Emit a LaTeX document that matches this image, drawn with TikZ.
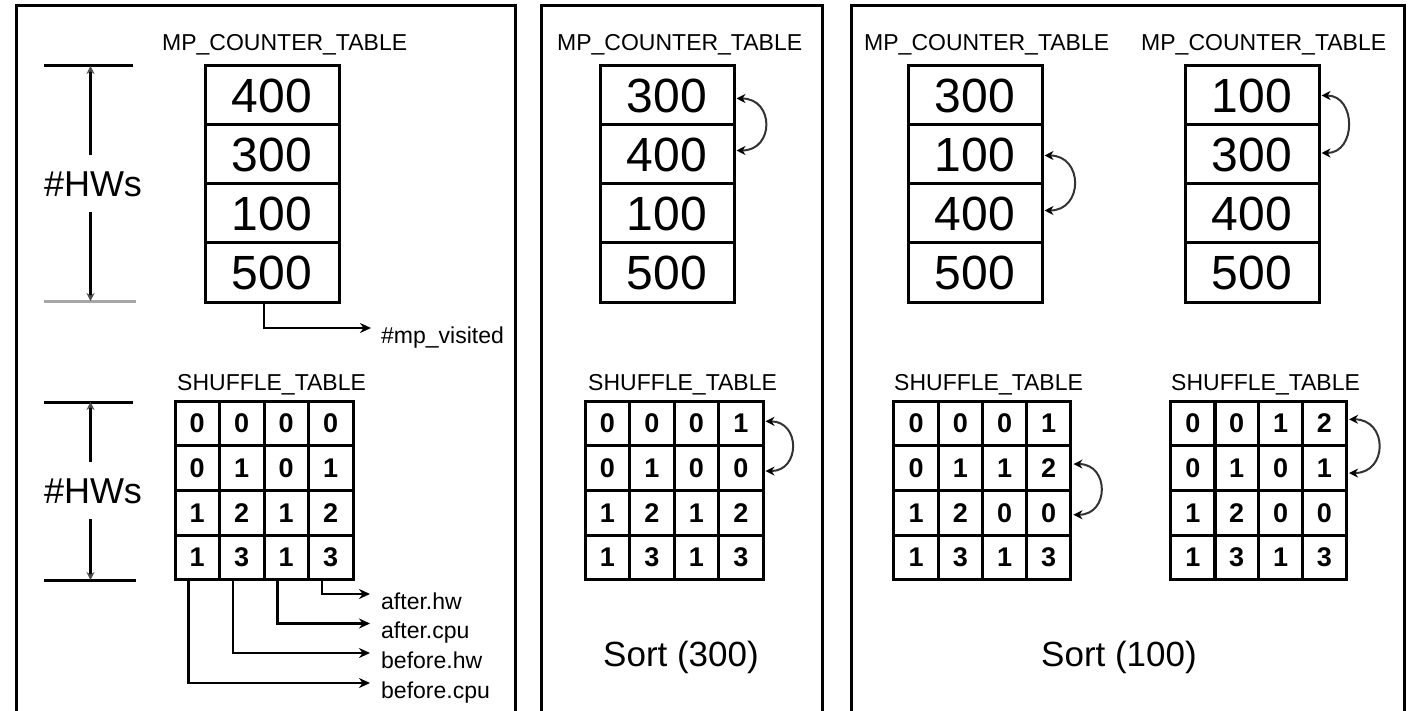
\documentclass[tikz,border=0pt]{standalone}
\usepackage{fontspec}
\setmainfont{Liberation Sans}
\usetikzlibrary{arrows.meta,calc}
\tikzset{
  panel/.style={line width=3pt},
  cnt/.style={draw, line width=3pt, minimum width=134pt, minimum height=59pt, inner sep=0pt, font=\fontsize{48}{48}\selectfont},
  shf/.style={draw, line width=3pt, minimum width=44.5pt, minimum height=44.7pt, inner sep=0pt, font=\fontsize{27}{27}\selectfont\bfseries},
  ttl/.style={anchor=base west, inner sep=0pt, font=\fontsize{23}{23}\selectfont},
  lbl/.style={anchor=base west, inner sep=0pt, font=\fontsize{23}{23}\selectfont},
  hwtext/.style={inner sep=0pt, font=\fontsize{36}{36}\selectfont},
  sorttext/.style={inner sep=0pt, font=\fontsize{35}{35}\selectfont},
  conn/.style={line width=2.8pt, -{Stealth[length=11pt,width=10pt]}},
  swaparr/.style={line width=2pt, black!80, {Stealth[length=9pt,width=9pt,color=black]}-{Stealth[length=9pt,width=9pt,color=black]}},
  dimline/.style={line width=3pt},
  dimarr/.style={line width=3pt, -{Stealth[length=8pt,width=8pt,color=black!70]}},
}
\begin{document}
\begin{tikzpicture}[x=1pt,y=-1pt]
\useasboundingbox (0,0) rectangle (1415,711);
% panels
\draw[panel] (16,716) -- (16,5.5) -- (515,5.5) -- (515,716);
\draw[panel] (541,716) -- (541,5.5) -- (822,5.5) -- (822,716);
\draw[panel] (851,716) -- (851,5.5) -- (1404,5.5) -- (1404,716);

% ---------------- left panel ----------------
\node[ttl] (tL) at (162,51) {MP\_COUNTER\_TABLE};
\foreach \v [count=\i] in {400,300,100,500}
  \node[cnt] (L\i) at (272,{66+59*(\i-0.5)}) {\v};
\node[ttl] (tA) at (177,390) {SHUFFLE\_TABLE};
\foreach \r/\vals in {1/{0,0,0,0},2/{0,1,0,1},3/{1,2,1,2},4/{1,3,1,3}}
  \foreach \v [count=\c] in \vals
    \node[shf] (A\r\c) at ({175+44.5*(\c-0.5)},{401+44.7*(\r-0.5)}) {\v};

% dimension #HWs (top)
\node[hwtext] (hw1) at (93,184) {\#HWs};
\coordinate (d1a) at (90.5,66);
\coordinate (d1b) at (90.5,301);
\draw[dimline] (44,66) -- (133,66);
\draw[dimline, black!35] (44,301) -- (136,301);
\draw[dimarr] (90.5,155) -- (d1a);
\draw[dimarr] (90.5,212) -- (d1b);
% dimension #HWs (bottom)
\node[hwtext] (hw2) at (93,491) {\#HWs};
\coordinate (d2a) at (90.5,402);
\coordinate (d2b) at (90.5,580);
\draw[dimline] (44,402) -- (133,402);
\draw[dimline] (44,580) -- (136,580);
\draw[dimarr] (90.5,462) -- (d2a);
\draw[dimarr] (90.5,519) -- (d2b);

% #mp_visited
\coordinate (mpv) at (371,328);
\draw[conn] ([xshift=-8pt]L4.south) |- (mpv);
\node[lbl] (lmpv) at (381,343) {\#mp\_visited};

% shuffle outputs
\coordinate (ahw) at (370,594);
\coordinate (acpu) at (370,623.5);
\coordinate (bhw) at (370,653);
\coordinate (bcpu) at (370,683);
\draw[conn] ([xshift=15pt]A44.south west) |- (ahw);
\draw[conn] ([xshift=15pt]A43.south west) |- (acpu);
\draw[conn] ([xshift=15pt]A42.south west) |- (bhw);
\draw[conn] ([xshift=15pt]A41.south west) |- (bcpu);
\node[lbl] (lahw) at (381,609) {after.hw};
\node[lbl] (lacpu) at (381,638.5) {after.cpu};
\node[lbl] (lbhw) at (381,668) {before.hw};
\node[lbl] (lbcpu) at (381,698) {before.cpu};

% ---------------- middle panel ----------------
\node[ttl] (tM) at (557,51) {MP\_COUNTER\_TABLE};
\foreach \v [count=\i] in {300,400,100,500}
  \node[cnt] (M\i) at (667,{66+59*(\i-0.5)}) {\v};
\draw[swaparr] ($(M1.east)+(1,3)$) .. controls +(38,0) and +(38,0) .. ($(M2.east)+(1,-4)$);
\node[ttl] (tB) at (588,390) {SHUFFLE\_TABLE};
\foreach \r/\vals in {1/{0,0,0,1},2/{0,1,0,0},3/{1,2,1,2},4/{1,3,1,3}}
  \foreach \v [count=\c] in \vals
    \node[shf] (B\r\c) at ({585+44.5*(\c-0.5)},{401+44.7*(\r-0.5)}) {\v};
\draw[swaparr] ($(B14.east)+(1,-2)$) .. controls +(35,0) and +(35,0) .. ($(B24.east)+(1,3)$);
\node[sorttext] (s1) at (681,657) {Sort (300)};

% ---------------- right panel ----------------
\node[ttl] (tR) at (864,51) {MP\_COUNTER\_TABLE};
\foreach \v [count=\i] in {300,100,400,500}
  \node[cnt] (R\i) at (975,{66+59*(\i-0.5)}) {\v};
\draw[swaparr] ($(R2.east)+(1,1)$) .. controls +(39,0) and +(39,0) .. ($(R3.east)+(1,-3)$);
\node[ttl] (tQ) at (1141,51) {MP\_COUNTER\_TABLE};
\foreach \v [count=\i] in {100,300,400,500}
  \node[cnt] (Q\i) at (1252,{66+59*(\i-0.5)}) {\v};
\draw[swaparr] ($(Q1.east)+(1,0)$) .. controls +(35,0) and +(35,0) .. ($(Q2.east)+(1,-1.5)$);

\node[ttl] (tC) at (894,390) {SHUFFLE\_TABLE};
\foreach \r/\vals in {1/{0,0,0,1},2/{0,1,1,2},3/{1,2,0,0},4/{1,3,1,3}}
  \foreach \v [count=\c] in \vals
    \node[shf] (C\r\c) at ({894+44.2*(\c-0.5)},{401+44.7*(\r-0.5)}) {\v};
\draw[swaparr] ($(C24.east)+(1,-4)$) .. controls +(36,0) and +(36,0) .. ($(C34.east)+(1,2)$);

\node[ttl] (tD) at (1171,390) {SHUFFLE\_TABLE};
\foreach \r/\vals in {1/{0,0,1,2},2/{0,1,0,1},3/{1,2,0,0},4/{1,3,1,3}}
  \foreach \v [count=\c] in \vals
    \node[shf] (D\r\c) at ({1171+43.8*(\c-0.5)},{401+44.7*(\r-0.5)}) {\v};
\draw[swaparr] ($(D14.east)+(1,-4)$) .. controls +(39,0) and +(39,0) .. ($(D24.east)+(1,5)$);
\node[sorttext] (s2) at (1119,657) {Sort (100)};
\end{tikzpicture}
\end{document}
